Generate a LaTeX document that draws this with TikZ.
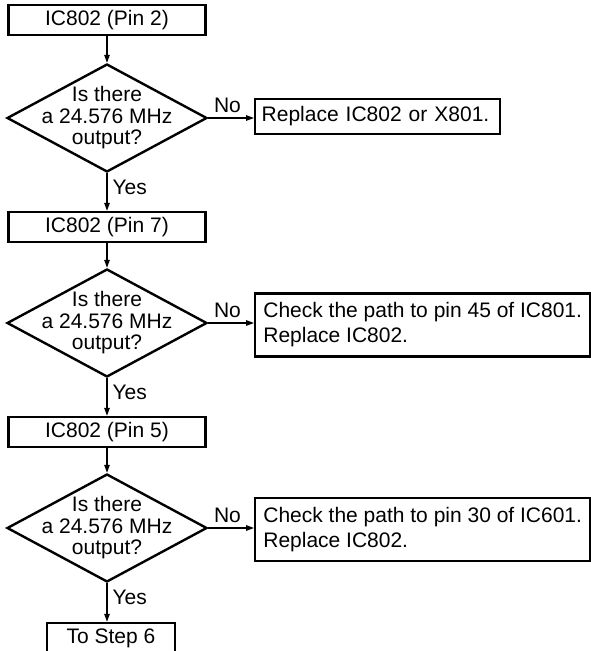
\documentclass[tikz,border=0pt]{standalone}
\usepackage{fontspec}
\setmainfont{Liberation Sans}
\usetikzlibrary{shapes.geometric, arrows.meta}

\begin{document}
\begin{tikzpicture}[x=1pt, y=-1pt,
        every node/.style={font=\fontsize{21}{21.5}\selectfont},
        box/.style={draw, line width=2.4pt, minimum width=197pt, minimum height=30pt, inner sep=0pt},
        question/.style={draw, shape=diamond, line width=2.4pt, minimum width=200pt, minimum height=108pt, inner sep=0pt},
        qtext/.style={align=center, inner sep=0pt},
        action/.style={draw, line width=2.4pt, anchor=west, inner xsep=6.5pt, inner ysep=0pt, align=left, font=\fontsize{21}{25}\selectfont},
        flow/.style={line width=1.3pt, -{Triangle[length=8pt, width=5.5pt]}},
        lbl/.style={inner sep=5pt}]
        \useasboundingbox (0,0) rectangle (591,651);

        % first check
        \node[box] (pin2) at (107,20) {IC802 (Pin 2)};
        \node[question] (q1) at (107,118) {};
        \node[qtext] (q1t) at (q1.center) {Is there\\a 24.576 MHz\\output?};
        \node[action, text width=232pt, minimum height=35pt] (fix1) at (254,116.5) {Replace IC802 or X801.};

        % second check
        \node[box] (pin7) at (107,227) {IC802 (Pin 7)};
        \node[question] (q2) at (107,323) {};
        \node[qtext] (q2t) at (q2.center) {Is there\\a 24.576 MHz\\output?};
        \node[action, minimum width=335pt, minimum height=63pt] (fix2) at (254,325) {Check the path to pin 45 of IC801.\\Replace IC802.};

        % third check
        \node[box] (pin5) at (107,432) {IC802 (Pin 5)};
        \node[question] (q3) at (107,528) {};
        \node[qtext] (q3t) at (q3.center) {Is there\\a 24.576 MHz\\output?};
        \node[action, minimum width=335pt, minimum height=63pt] (fix3) at (254,529.5) {Check the path to pin 30 of IC601.\\Replace IC802.};

        \node[box, minimum width=128pt] (step6) at (111,638) {To Step 6};

        % connectors
        \draw[flow] (pin2.south) -- (q1.north);
        \draw[flow] (q1.east) -- (q1.east -| fix1.west) node[lbl, above, pos=0.42] (no1) {No};
        \draw[flow] (q1.south) -- (pin7.north) node[lbl, right, pos=0.38] (yes1) {Yes};
        \draw[flow] (pin7.south) -- (q2.north);
        \draw[flow] (q2.east) -- (q2.east -| fix2.west) node[lbl, above, pos=0.42] (no2) {No};
        \draw[flow] (q2.south) -- (pin5.north) node[lbl, right, pos=0.38] (yes2) {Yes};
        \draw[flow] (pin5.south) -- (q3.north);
        \draw[flow] (q3.east) -- (q3.east -| fix3.west) node[lbl, above, pos=0.42] (no3) {No};
        \draw[flow] (q3.south) -- (q3.south |- step6.north) node[lbl, right, pos=0.38] (yes3) {Yes};
\end{tikzpicture}
\end{document}
